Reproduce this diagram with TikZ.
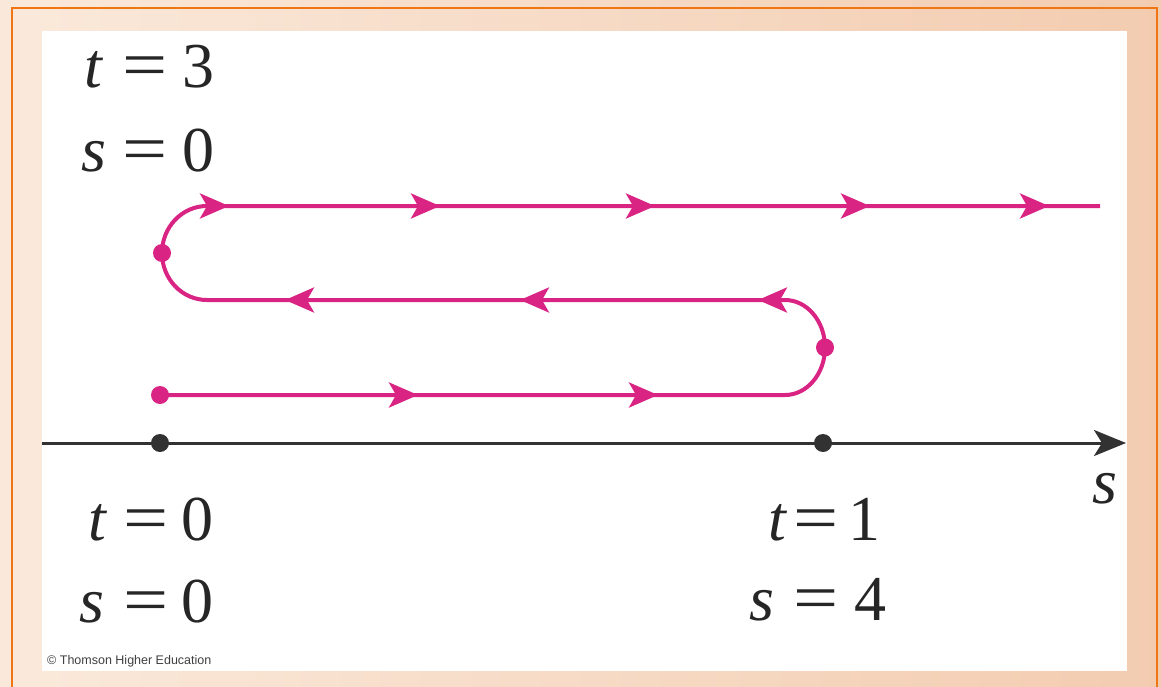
\documentclass[tikz,border=0pt]{standalone}
\usepackage{fontspec}
\setmainfont{Liberation Serif}
\newfontfamily\cpyfont{Liberation Sans}
\usetikzlibrary{arrows.meta}
\definecolor{pk}{RGB}{218,36,132}
\definecolor{axisgray}{RGB}{50,50,50}
\definecolor{bgleft}{RGB}{250,233,219}
\definecolor{bgright}{RGB}{243,204,176}
\definecolor{frameorange}{RGB}{240,118,20}
\newcommand{\eqlab}[4]{\makebox[0pt][r]{\textit{#1}\hspace{#3pt}}\scalebox{1.25}[1.05]{=}\makebox[0pt][l]{\hspace{#4pt}#2}}
\tikzset{
  lab/.style={anchor=base, inner sep=0pt, font=\fontsize{64}{76}\selectfont, text=black!85},
  pkpath/.style={draw=pk, line width=4pt},
  pkarrow/.style={pk, line width=4pt, -{Stealth[length=29pt,width=25pt,inset=7pt]}},
  pkdot/.style={circle, fill=pk, inner sep=0pt, minimum size=18pt},
  blkdot/.style={circle, fill=axisgray, inner sep=0pt, minimum size=18pt},
  axisline/.style={draw=axisgray, line width=3pt, -{Stealth[length=32pt,width=26pt,inset=8pt]}}
}
\begin{document}
\begin{tikzpicture}[x=1pt,y=-1pt]
\useasboundingbox (0,0) rectangle (1161,687);
% background
\shade[left color=bgleft, right color=bgright] (0,0) rectangle (1161,687);
\draw[frameorange, line width=2.2pt] (12,700) -- (12,8) -- (1157,8) -- (1157,700);
\fill[white] (42,31) rectangle (1127,671);

% axis
\coordinate (axL) at (42,443);
\coordinate (axR) at (1126,443);
\draw[axisline] (axL) -- (axR);
\node[blkdot] (b0) at (160,443) {};
\node[blkdot] (b1) at (823,443) {};
\node[lab] (slab) at (1105,503) {\textit{s}};

% magenta path
\coordinate (p0) at (160,395);
\coordinate (p1) at (785,395);
\coordinate (p2) at (825,347.5);
\coordinate (p3) at (785,300);
\coordinate (p4) at (207,300);
\coordinate (p5) at (162,253);
\coordinate (p6) at (207,206);
\coordinate (p7) at (1100,206);
\draw[pkpath] (p0) -- (p1)
  .. controls (807.1,395) and (825,373.7) .. (p2)
  .. controls (825,321.3) and (807.1,300) .. (p3)
  -- (p4)
  .. controls (182.1,300) and (162,279) .. (p5)
  .. controls (162,227) and (182.1,206) .. (p6)
  -- (p7);
\node[pkdot] (d0) at (p0) {};
\node[pkdot] (d1) at (p2) {};
\node[pkdot] (d2) at (p5) {};

% arrowheads on path
\foreach \x in {418,658} \draw[pkarrow] (\x-2,395) -- (\x,395);
\foreach \x in {285,520,758} \draw[pkarrow] (\x+2,300) -- (\x,300);
\foreach \x in {229,440,655,870,1049} \draw[pkarrow] (\x-2,206) -- (\x,206);

% labels
\node[lab] (t3) at (145,88) {\eqlab{t}{3}{19}{15}};
\node[lab] (s0a) at (145,172) {\eqlab{s}{0}{16}{15}};
\node[lab] (t0) at (146,540) {\eqlab{t}{0}{16}{13}};
\node[lab] (s0b) at (146,622) {\eqlab{s}{0}{19}{13}};
\node[lab] (t1) at (816,540) {\eqlab{t}{1}{6}{10}};
\node[lab] (s4) at (816,620) {\eqlab{s}{4}{19}{16}};

% copyright
\node[anchor=west, inner sep=0pt, text=black!75, font=\cpyfont\fontsize{12.5}{14}\selectfont] (cpy) at (47,661) {© Thomson Higher Education};
\end{tikzpicture}
\end{document}
